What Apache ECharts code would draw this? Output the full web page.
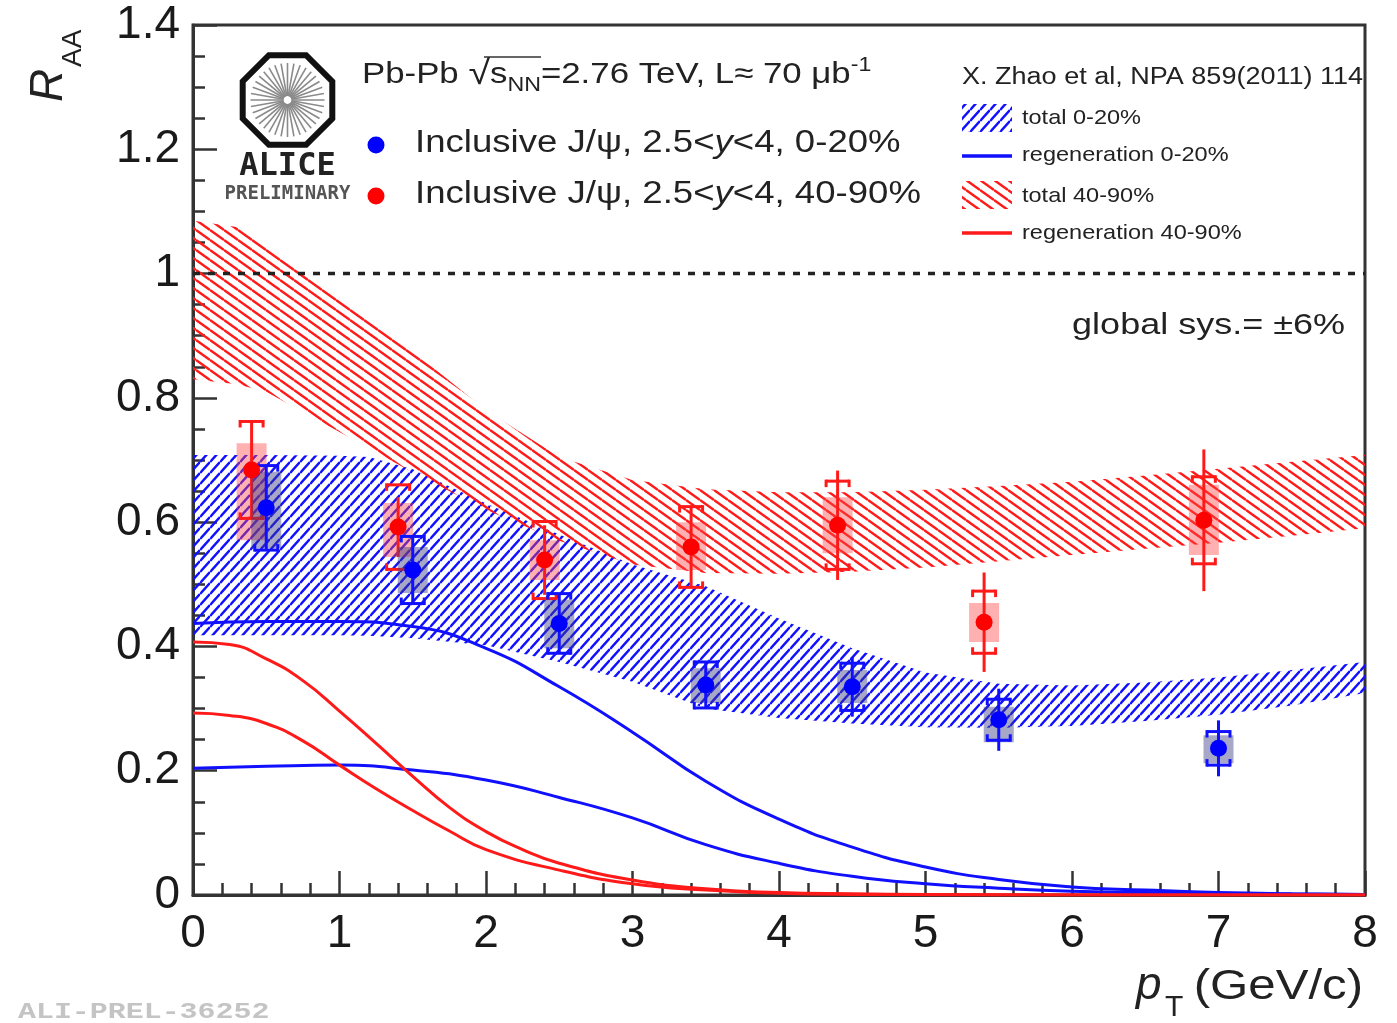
<!DOCTYPE html>
<html>
<head>
<meta charset="utf-8">
<script src="https://cdn.jsdelivr.net/npm/echarts@6/dist/echarts.min.js"></script>
<style>
  html, body { margin: 0; padding: 0; background: #fff; }
  #chart { width: 1397px; height: 1023px; }
</style>
</head>
<body>
<div id="chart"></div>
<script>
const FONT = '"Liberation Sans", Arial, Helvetica, sans-serif';

// ---- ALICE preliminary: inclusive J/psi R_AA vs pT, 2.5<y<4 ----
// 0-20% centrality
const cenPt    = [0.5, 1.5, 2.5, 3.5, 4.5, 5.5, 7.0];
const cenRaa   = [0.623, 0.523, 0.437, 0.338, 0.335, 0.282, 0.236];
const cenStat  = [0.068, 0.054, 0.048, 0.037, 0.048, 0.050, 0.045];
const cenSysU  = [0.068, 0.054, 0.048, 0.037, 0.038, 0.033, 0.027];
const cenSysLo = [0.558, 0.486, 0.397, 0.309, 0.309, 0.246, 0.212];
const cenSysHi = [0.681, 0.560, 0.475, 0.365, 0.362, 0.303, 0.257];

// 40-90% centrality
const perPt    = [0.4, 1.4, 2.4, 3.4, 4.4, 5.4, 6.9];
const perRaa   = [0.684, 0.592, 0.539, 0.560, 0.595, 0.439, 0.603];
const perStat  = [0.078, 0.048, 0.056, 0.065, 0.088, 0.080, 0.114];
const perSysU  = [0.078, 0.068, 0.062, 0.065, 0.071, 0.050, 0.070];
const perSysLo = [0.571, 0.544, 0.507, 0.523, 0.550, 0.407, 0.547];
const perSysHi = [0.727, 0.631, 0.571, 0.600, 0.640, 0.470, 0.660];

// ---- Transport model (X. Zhao et al.) ----
// total R_AA band, 0-20%
const cenBandPt = [0, 0.5, 1, 1.2, 1.5, 2, 2.5, 3, 3.5, 4, 4.5, 5, 5.5, 6, 6.5, 7, 7.5, 8];
const cenBandHi = [0.708, 0.708, 0.707, 0.705, 0.685, 0.630, 0.580, 0.532, 0.497, 0.445, 0.397, 0.358, 0.340, 0.337, 0.342, 0.350, 0.362, 0.375];
const cenBandLo = [0.418, 0.418, 0.418, 0.417, 0.413, 0.402, 0.375, 0.343, 0.300, 0.285, 0.276, 0.270, 0.269, 0.272, 0.280, 0.290, 0.305, 0.325];
// total R_AA band, 40-90%
const perBandPt = [0, 0.3, 0.5, 1, 1.5, 2, 2.5, 3, 3.5, 4, 4.5, 5, 5.5, 6, 6.5, 7, 7.5, 8];
const perBandHi = [1.085, 1.075, 1.050, 0.965, 0.875, 0.780, 0.705, 0.668, 0.653, 0.648, 0.648, 0.652, 0.658, 0.665, 0.675, 0.686, 0.697, 0.708];
const perBandLo = [0.830, 0.822, 0.810, 0.745, 0.680, 0.620, 0.570, 0.532, 0.518, 0.517, 0.520, 0.527, 0.537, 0.547, 0.557, 0.567, 0.578, 0.590];

// regeneration component, 0-20% (upper / lower edge)
const cenRegHiPt = [0, 0.5, 1, 1.5, 2.0, 2.5, 3.0, 3.5, 4.0, 4.5, 5.0, 5.5, 6.0, 6.5, 7, 7.5, 8];
const cenRegHi   = [0.437, 0.440, 0.440, 0.432, 0.397, 0.335, 0.262, 0.183, 0.122, 0.077, 0.045, 0.025, 0.013, 0.008, 0.004, 0.002, 0.001];
const cenRegLoPt = [0, 0.5, 1, 1.5, 2, 2.5, 3.0, 3.5, 4.0, 4.5, 5.0, 5.5, 6.0, 6.5, 7, 8];
const cenRegLo   = [0.204, 0.207, 0.209, 0.201, 0.185, 0.157, 0.124, 0.081, 0.051, 0.030, 0.018, 0.011, 0.006, 0.004, 0.002, 0.001];
// regeneration component, 40-90% (upper / lower edge)
const perRegHiPt = [0, 0.25, 0.5, 0.75, 1.0, 1.25, 1.5, 1.75, 2.0, 2.25, 2.5, 3.0, 3.5, 4, 4.5, 5, 6, 8];
const perRegHi   = [0.407, 0.403, 0.380, 0.345, 0.296, 0.244, 0.191, 0.141, 0.102, 0.073, 0.051, 0.024, 0.010, 0.004, 0.002, 0.001, 0, 0];
const perRegLoPt = [0, 0.25, 0.5, 0.75, 1.0, 1.25, 1.5, 1.75, 2.0, 2.5, 3.0, 3.5, 4, 4.5, 5, 6, 8];
const perRegLo   = [0.293, 0.289, 0.276, 0.248, 0.209, 0.171, 0.136, 0.103, 0.073, 0.040, 0.018, 0.008, 0.003, 0.001, 0.0005, 0, 0];

// reference line R_AA = 1
const unityPt = [0, 8];
const unityVal = [1, 1];

const BLUE = '#1010ff';
const RED = '#ff1a1a';

// Hatch tile: parallel lines repeating on a w x h lattice.
// dir = 1 draws "/" stripes, dir = -1 draws "\" stripes.
function hatch(color, w, h, dir, lw) {
  const c = document.createElement('canvas');
  c.width = w; c.height = h;
  const g = c.getContext('2d');
  g.strokeStyle = color;
  g.lineWidth = lw;
  g.lineCap = 'butt';
  for (let k = -1; k <= 1; k++) {
    g.beginPath();
    if (dir > 0) { g.moveTo(0, h + k * h); g.lineTo(w, k * h); }
    else { g.moveTo(0, k * h); g.lineTo(w, h + k * h); }
    g.stroke();
  }
  return { image: c, repeat: 'repeat' };
}
const blueHatch = hatch(BLUE, 10, 11, 1, 2.5);
const redHatch = hatch(RED, 14, 10, -1, 2.4);

function zip(xs, ys) { return xs.map((x, i) => [x, ys[i]]); }

// Filled band between two edges, drawn as one polygon
function bandSeries(name, xs, lo, hi, fill) {
  return {
    name, type: 'custom', z: 1, silent: true, clip: true,
    data: xs.map((x, i) => [x, lo[i], hi[i]]),
    encode: { x: 0, y: [1, 2] },
    renderItem(params, api) {
      if (params.dataIndex !== 0) return null;
      const top = xs.map((x, i) => api.coord([x, hi[i]]));
      const bot = xs.map((x, i) => api.coord([x, lo[i]])).reverse();
      return { type: 'polygon', shape: { points: top.concat(bot) }, style: { fill } };
    }
  };
}

function curve(name, xs, ys, color) {
  return {
    name, type: 'line', z: 2, silent: true, data: zip(xs, ys),
    showSymbol: false, symbol: 'none', smooth: 0.5,
    lineStyle: { color, width: 3 }
  };
}

// Measured points: correlated sys (box), uncorrelated sys (brackets), stat (bar)
function errorSeries(name, pt, raa, stat, sysU, lo, hi, color, boxColor, z) {
  return {
    name, type: 'custom', z, silent: true,
    data: pt.map((x, i) => [x, raa[i], stat[i], sysU[i], lo[i], hi[i]]),
    encode: { x: 0, y: 1 },
    renderItem(params, api) {
      const x = api.value(0), y = api.value(1), st = api.value(2), su = api.value(3);
      const bTop = api.coord([x, api.value(5)])[1];
      const bBot = api.coord([x, api.value(4)])[1];
      const cx = api.coord([x, y])[0];
      const sTop = api.coord([x, y + st])[1], sBot = api.coord([x, y - st])[1];
      const uTop = api.coord([x, y + su])[1], uBot = api.coord([x, y - su])[1];
      const bw = 15, hw = 11.5, tk = 6;
      const seg = (x1, y1, x2, y2) => ({ type: 'line', shape: { x1, y1, x2, y2 }, style: { stroke: color, lineWidth: 3 } });
      return {
        type: 'group', children: [
          { type: 'rect', shape: { x: cx - bw, y: bTop, width: 2 * bw, height: bBot - bTop }, style: { fill: boxColor } },
          seg(cx, sTop, cx, sBot),
          seg(cx - hw, uTop, cx + hw, uTop), seg(cx - hw, uTop - 1.5, cx - hw, uTop + tk), seg(cx + hw, uTop - 1.5, cx + hw, uTop + tk),
          seg(cx - hw, uBot, cx + hw, uBot), seg(cx - hw, uBot + 1.5, cx - hw, uBot - tk), seg(cx + hw, uBot + 1.5, cx + hw, uBot - tk)
        ]
      };
    }
  };
}

function points(name, pt, raa, color) {
  return {
    name, type: 'scatter', z: 6, silent: true, data: zip(pt, raa),
    symbol: 'circle', symbolSize: 17, itemStyle: { color, opacity: 1 }
  };
}

// ALICE logo geometry
function octagon(cx, cy, r) {
  const pts = [];
  for (let k = 0; k < 8; k++) {
    const a = Math.PI / 8 + k * Math.PI / 4;
    pts.push([cx + r * Math.cos(a), cy + r * Math.sin(a)]);
  }
  return pts;
}
const logoCx = 287.5, logoCy = 100;
const spokes = [];
for (let k = 0; k < 36; k++) {
  const a = k * Math.PI / 18;
  spokes.push({
    type: 'line',
    shape: { x1: logoCx + 4 * Math.cos(a), y1: logoCy + 4 * Math.sin(a), x2: logoCx + 37 * Math.cos(a), y2: logoCy + 37 * Math.sin(a) },
    style: { stroke: '#8a8a8a', lineWidth: 1.6 }
  });
}

const txt = (x, y, text, size, scaleX, align) => ({
  type: 'text', x, y, scaleX: scaleX || 1, silent: true,
  style: { text, fontFamily: FONT, fontSize: size, fill: '#222', align: align || 'left', verticalAlign: 'middle' }
});

const axisCommon = {
  axisLine: { show: true, onZero: false, lineStyle: { color: '#333', width: 3 } },
  axisTick: { show: true, inside: true, length: 24, lineStyle: { color: '#333', width: 2.5 } },
  splitLine: { show: false },
  axisLabel: { fontFamily: FONT, fontSize: 46, color: '#1a1a1a', margin: 13 }
};

const chart = echarts.init(document.getElementById('chart'), null, { renderer: 'canvas' });
chart.setOption({
  animation: false,
  backgroundColor: '#ffffff',
  grid: { left: 193, right: 32, top: 25, bottom: 128, show: true, borderColor: '#333', borderWidth: 3, backgroundColor: 'transparent' },
  xAxis: Object.assign({}, axisCommon, {
    type: 'value', min: 0, max: 8, interval: 1,
    axisLabel: { fontFamily: FONT, fontSize: 46, color: '#1a1a1a', margin: 16 },
    minorTick: { show: true, splitNumber: 5, length: 12, lineStyle: { color: '#333', width: 2.5 } }
  }),
  yAxis: Object.assign({}, axisCommon, {
    type: 'value', min: 0, max: 1.4, interval: 0.2,
    minorTick: { show: true, splitNumber: 4, length: 12, lineStyle: { color: '#333', width: 2.5 } }
  }),
  series: [
    bandSeries('total 0-20%', cenBandPt, cenBandLo, cenBandHi, blueHatch),
    bandSeries('total 40-90%', perBandPt, perBandLo, perBandHi, redHatch),
    curve('regeneration 0-20%', cenRegHiPt, cenRegHi, BLUE),
    curve('regeneration 0-20%', cenRegLoPt, cenRegLo, BLUE),
    curve('regeneration 40-90%', perRegHiPt, perRegHi, RED),
    curve('regeneration 40-90%', perRegLoPt, perRegLo, RED),
    {
      name: 'unity', type: 'line', z: 3, silent: true, data: zip(unityPt, unityVal),
      symbol: 'none', lineStyle: { color: '#222', width: 3.5, type: [7, 8] }
    },
    errorSeries('40-90% errors', perPt, perRaa, perStat, perSysU, perSysLo, perSysHi, RED, 'rgba(255,70,70,0.42)', 4),
    errorSeries('0-20% errors', cenPt, cenRaa, cenStat, cenSysU, cenSysLo, cenSysHi, BLUE, 'rgba(60,60,130,0.45)', 5),
    points('Inclusive J/ψ, 40-90%', perPt, perRaa, '#ff0000'),
    points('Inclusive J/ψ, 0-20%', cenPt, cenRaa, '#0000ff')
  ],
  graphic: [
    // ALICE logo
    { type: 'polygon', silent: true, shape: { points: octagon(logoCx, logoCy, 48.5) }, style: { fill: '#fff', stroke: '#111', lineWidth: 6 } },
    { type: 'group', silent: true, children: spokes },
    { type: 'text', x: logoCx, y: 167, silent: true, style: { text: 'ALICE', font: 'bold 32px "DejaVu Sans Mono", monospace', fill: '#222', align: 'center', verticalAlign: 'middle' } },
    { type: 'text', x: logoCx, y: 194, silent: true, style: { text: 'PRELIMINARY', font: 'bold 19px "DejaVu Sans Mono", monospace', fill: '#555', align: 'center', verticalAlign: 'middle' } },

    // header
    {
      type: 'text', x: 362, y: 75, scaleX: 1.16, silent: true,
      style: {
        text: '{n|Pb-Pb }{r|√}{n|s}{b|NN}{n|=2.76 TeV, L≈ 70 μb}{p|-1}',
        verticalAlign: 'middle', align: 'left',
        rich: {
          n: { fontFamily: FONT, fontSize: 30, fill: '#222', lineHeight: 40 },
          r: { fontFamily: FONT, fontSize: 34, fill: '#222', lineHeight: 40 },
          b: { fontFamily: FONT, fontSize: 20, fill: '#222', lineHeight: 20, verticalAlign: 'bottom' },
          p: { fontFamily: FONT, fontSize: 20, fill: '#222', lineHeight: 20, verticalAlign: 'top' }
        }
      }
    },
    { type: 'line', silent: true, shape: { x1: 484, y1: 57, x2: 541, y2: 57 }, style: { stroke: '#333', lineWidth: 1.5 } },

    // data legend
    { type: 'circle', silent: true, shape: { cx: 376, cy: 145, r: 8.5 }, style: { fill: '#0000ff' } },
    { type: 'circle', silent: true, shape: { cx: 376, cy: 196, r: 8.5 }, style: { fill: '#ff0000' } },
    {
      type: 'text', x: 415, y: 143, scaleX: 1.18, silent: true,
      style: {
        text: '{n|Inclusive J/ψ, 2.5<}{i|y}{n|<4, 0-20%}', align: 'left', verticalAlign: 'middle',
        rich: { n: { fontFamily: FONT, fontSize: 31, fill: '#222' }, i: { fontFamily: FONT, fontSize: 31, fontStyle: 'italic', fill: '#222' } }
      }
    },
    {
      type: 'text', x: 415, y: 194, scaleX: 1.18, silent: true,
      style: {
        text: '{n|Inclusive J/ψ, 2.5<}{i|y}{n|<4, 40-90%}', align: 'left', verticalAlign: 'middle',
        rich: { n: { fontFamily: FONT, fontSize: 31, fill: '#222' }, i: { fontFamily: FONT, fontSize: 31, fontStyle: 'italic', fill: '#222' } }
      }
    },

    // model legend
    txt(962, 78, 'X. Zhao et al, NPA 859(2011) 114', 23.5, 1.15),
    { type: 'rect', silent: true, shape: { x: 962, y: 104, width: 50, height: 28 }, style: { fill: blueHatch } },
    txt(1022, 118, 'total 0-20%', 21, 1.12),
    { type: 'line', silent: true, shape: { x1: 962, y1: 156, x2: 1012, y2: 156 }, style: { stroke: BLUE, lineWidth: 3.5 } },
    txt(1022, 155, 'regeneration 0-20%', 21, 1.12),
    { type: 'rect', silent: true, shape: { x: 962, y: 181, width: 50, height: 28 }, style: { fill: redHatch } },
    txt(1022, 196, 'total 40-90%', 21, 1.12),
    { type: 'line', silent: true, shape: { x1: 962, y1: 233, x2: 1012, y2: 233 }, style: { stroke: RED, lineWidth: 3.5 } },
    txt(1022, 233, 'regeneration 40-90%', 21, 1.12),

    // global systematic
    txt(1345, 326, 'global sys.= ±6%', 30, 1.2, 'right'),

    // axis titles
    {
      type: 'group', x: 57, y: 64, rotation: Math.PI / 2, silent: true,
      children: [
        { type: 'text', x: -38, y: -8, style: { text: 'R', fontFamily: FONT, fontSize: 46, fontStyle: 'italic', fill: '#222', align: 'left', verticalAlign: 'middle' } },
        { type: 'text', x: -3, y: 16, style: { text: 'AA', fontFamily: FONT, fontSize: 28, fill: '#222', align: 'left', verticalAlign: 'middle' } }
      ]
    },
    { type: 'text', x: 1136, y: 986, silent: true, style: { text: 'p', fontFamily: FONT, fontSize: 46, fontStyle: 'italic', fill: '#222', align: 'left', verticalAlign: 'middle' } },
    { type: 'text', x: 1165, y: 1008, silent: true, style: { text: 'T', fontFamily: FONT, fontSize: 30, fill: '#222', align: 'left', verticalAlign: 'middle' } },
    { type: 'text', x: 1363, y: 987, scaleX: 1.17, silent: true, style: { text: '(GeV/c)', fontFamily: FONT, fontSize: 42, fill: '#222', align: 'right', verticalAlign: 'middle' } },

    // figure id
    { type: 'text', x: 18, y: 1012, scaleX: 1.36, silent: true, style: { text: 'ALI-PREL-36252', font: 'bold 22px "Liberation Mono", "DejaVu Sans Mono", monospace', fill: '#c4c4c4', align: 'left', verticalAlign: 'middle' } }
  ]
});
</script>
</body>
</html>
